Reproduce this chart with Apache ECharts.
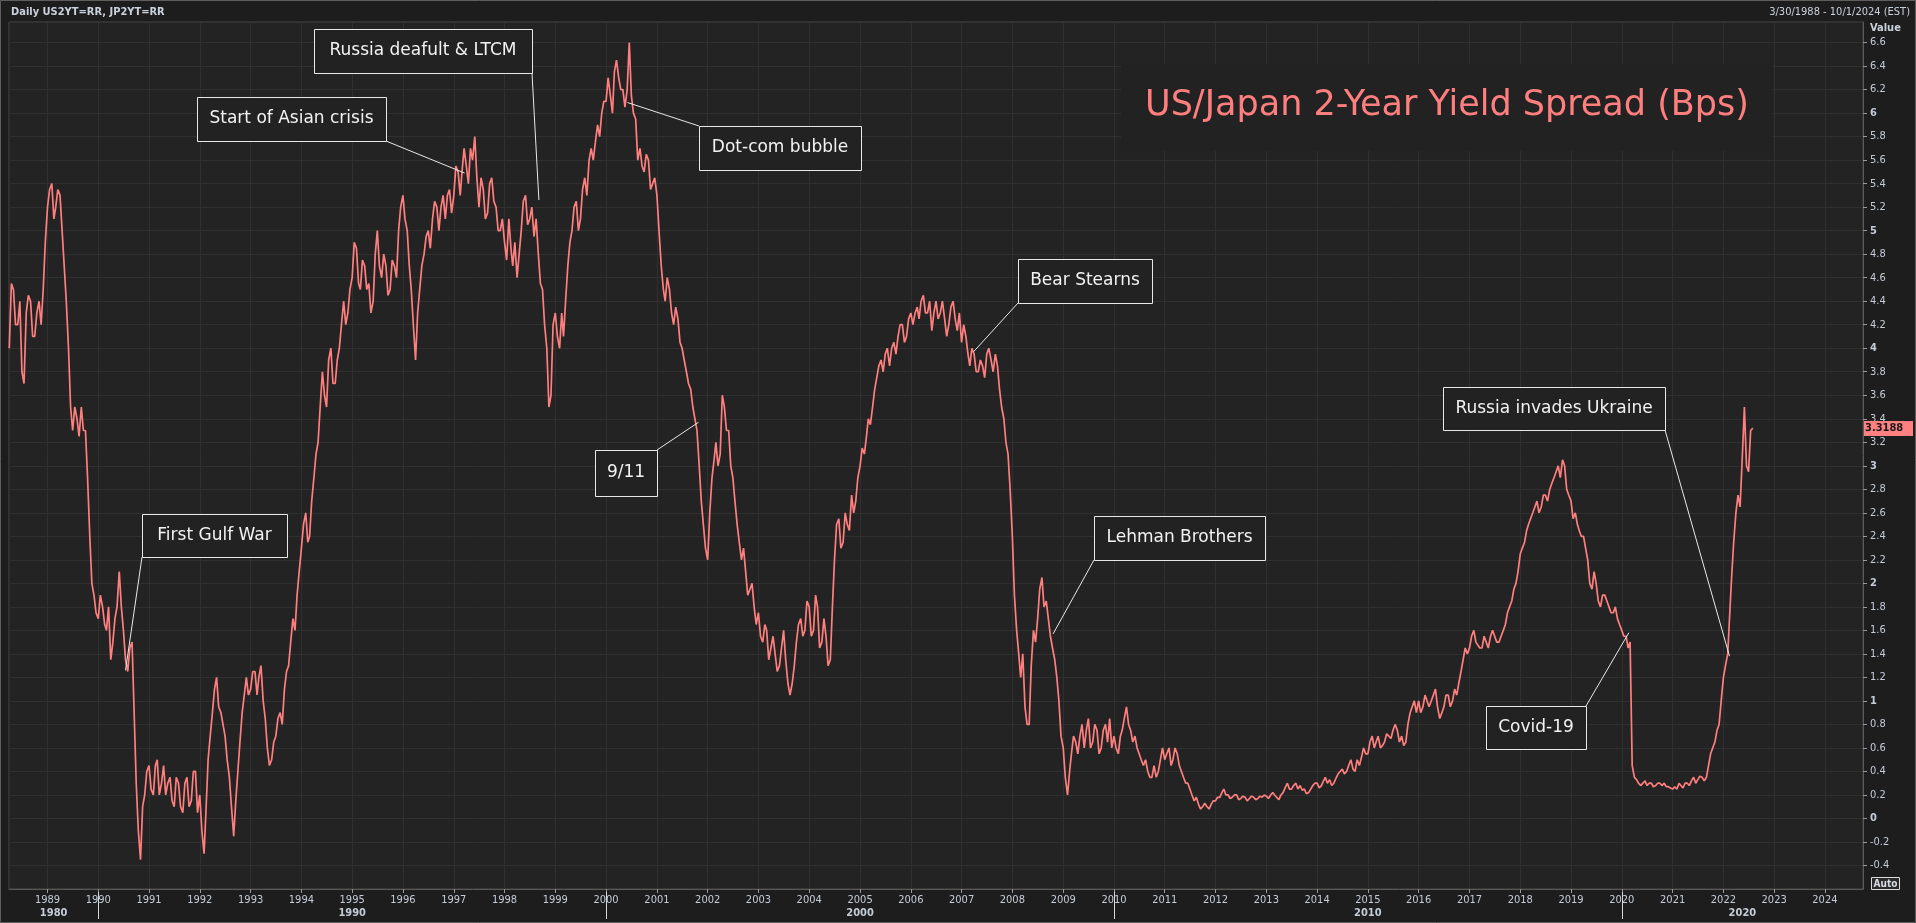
<!DOCTYPE html>
<html><head><meta charset="utf-8">
<script src="https://cdn.jsdelivr.net/npm/echarts@6/dist/echarts.min.js"></script>
<style>html,body{margin:0;padding:0;background:#1d1d1d;overflow:hidden}#c{width:1916px;height:923px}</style>
</head><body><div id="c"></div>
<script>
// ---------- texts ----------
const chartTitle = 'US/Japan 2-Year Yield Spread (Bps)';
const headerLeft = 'Daily US2YT=RR, JP2YT=RR';
const headerRight = '3/30/1988 - 10/1/2024 (EST)';
const axisName = 'Value';
const lastValueText = '3.3188';
const lastValue = 3.3188;
const rangeStart = '1988-03-30';
const rangeEnd = '2024-10-01';
const decades = [1980, 1990, 2000, 2010, 2020];

// ---------- data: spread read at the 1st and 16th of each month; 1988 starts in April, 2022 ends in August ----------
const dataYears = [1988,1989,1990,1991,1992,1993,1994,1995,1996,1997,1998,1999,2000,2001,2002,2003,2004,2005,2006,2007,2008,2009,2010,2011,2012,2013,2014,2015,2016,2017,2018,2019,2020,2021,2022];
const firstMonth = 4;
const spreadMonthStart = [
  [4.0,4.5,4.2,3.8,4.3,4.4,4.1,4.4,4.5],
  [5.2,5.4,5.2,5.3,4.7,4.0,3.3,3.4,3.5,3.3,2.4,1.9],
  [1.7,1.8,1.6,1.35,1.7,2.1,1.6,1.25,1.5,0.3,-0.35,0.2],
  [0.45,0.2,0.5,0.3,0.2,0.35,0.1,0.3,0.05,0.35,0.15,0.4],
  [0.2,-0.3,0.5,0.9,1.2,0.9,0.7,0.35,-0.15,0.4,0.9,1.2],
  [1.1,1.25,1.2,1.0,0.6,0.5,0.7,0.9,1.1,1.3,1.7,1.9],
  [2.3,2.6,2.4,2.9,3.2,3.8,3.5,4.0,3.7,4.0,4.4,4.3],
  [4.6,4.85,4.5,4.7,4.55,4.4,5.0,4.6,4.7,4.5,4.7,5.0],
  [5.3,5.0,4.5,3.9,4.5,4.8,5.0,5.1,5.2,5.2,5.1,5.35],
  [5.3,5.5,5.5,5.55,5.7,5.8,5.2,5.35,5.15,5.45,5.2,5.0],
  [4.9,5.1,4.7,4.6,5.0,5.3,5.1,4.95,4.8,4.5,4.0,3.6],
  [4.3,4.0,4.1,4.7,5.0,5.25,5.1,5.45,5.6,5.6,5.9,6.0],
  [6.1,6.15,6.35,6.3,6.2,6.2,6.15,5.95,5.7,5.5,5.6,5.4],
  [5.3,4.7,4.4,4.5,4.2,4.25,4.0,3.8,3.65,3.4,3.0,2.5],
  [2.2,2.9,3.2,3.1,3.5,3.3,2.9,2.5,2.2,2.1,1.95,1.8],
  [1.75,1.5,1.6,1.45,1.4,1.3,1.6,1.15,1.15,1.5,1.7,1.6],
  [1.8,1.6,1.8,1.5,1.55,1.35,2.2,2.55,2.35,2.5,2.75,2.7],
  [3.0,3.1,3.4,3.5,3.75,3.9,3.95,3.85,4.05,4.1,4.2,4.1],
  [4.3,4.3,4.25,4.45,4.3,4.15,4.4,4.3,4.25,4.2,4.4,4.15],
  [4.05,4.1,3.85,3.95,3.8,3.85,3.95,3.9,3.95,3.65,3.4,3.1],
  [2.4,1.6,1.2,0.95,0.8,1.6,1.7,2.05,1.85,1.55,1.35,1.0],
  [0.6,0.2,0.55,0.65,0.7,0.6,0.85,0.65,0.75,0.6,0.8,0.85],
  [0.7,0.55,0.75,0.95,0.75,0.7,0.55,0.45,0.4,0.35,0.35,0.5],
  [0.5,0.6,0.5,0.55,0.4,0.3,0.25,0.15,0.12,0.1,0.1,0.12],
  [0.15,0.18,0.25,0.2,0.18,0.2,0.17,0.18,0.17,0.18,0.17,0.18],
  [0.19,0.2,0.2,0.16,0.22,0.3,0.25,0.3,0.28,0.25,0.22,0.28],
  [0.3,0.28,0.35,0.33,0.3,0.38,0.42,0.4,0.5,0.4,0.45,0.6],
  [0.55,0.7,0.65,0.6,0.65,0.7,0.75,0.75,0.7,0.65,0.9,1.0],
  [1.0,0.95,1.05,1.0,1.1,0.85,0.95,1.05,1.0,1.05,1.25,1.45],
  [1.45,1.6,1.5,1.45,1.5,1.55,1.55,1.5,1.6,1.75,1.85,2.0],
  [2.25,2.35,2.5,2.6,2.7,2.65,2.75,2.8,2.9,3.0,3.05,2.8],
  [2.7,2.6,2.45,2.4,2.2,1.95,2.0,1.8,1.9,1.8,1.75,1.7],
  [1.6,1.55,1.5,0.35,0.3,0.3,0.28,0.3,0.28,0.3,0.3,0.27],
  [0.25,0.25,0.28,0.3,0.28,0.35,0.33,0.35,0.35,0.55,0.65,0.8],
  [1.2,1.4,2.05,2.6,2.65,3.5,2.95,3.32]
];
const spreadMidMonth = [
  [4.55,4.2,4.4,3.7,4.45,4.1,4.3,4.2,4.9],
  [5.35,5.1,5.35,5.0,4.4,3.5,3.5,3.25,3.3,2.9,2.0,1.75],
  [1.9,1.65,1.8,1.5,1.8,1.8,1.35,1.45,0.9,-0.1,0.1,0.4],
  [0.25,0.45,0.2,0.45,0.3,0.15,0.35,0.1,0.3,0.1,0.4,0.05],
  [-0.1,0.1,0.7,1.1,0.95,0.8,0.5,0.1,0.15,0.65,1.05,1.05],
  [1.25,1.05,1.3,0.85,0.45,0.65,0.85,0.8,1.25,1.5,1.6,2.1],
  [2.5,2.35,2.7,3.1,3.5,3.6,3.9,3.7,3.9,4.2,4.2,4.5],
  [4.9,4.55,4.75,4.5,4.3,4.8,4.7,4.8,4.45,4.75,4.6,5.2],
  [5.1,4.7,4.2,4.3,4.7,4.95,4.85,5.25,5.0,5.3,5.3,5.15],
  [5.55,5.3,5.7,5.4,5.6,5.45,5.45,5.1,5.4,5.25,5.0,5.1],
  [4.75,4.85,4.9,4.8,5.25,5.05,5.2,5.1,4.55,4.2,3.5,4.2],
  [4.1,4.3,4.4,4.9,5.2,5.0,5.35,5.3,5.7,5.75,5.8,6.1],
  [6.3,6.0,6.45,6.2,6.05,6.6,6.0,5.6,5.55,5.65,5.35,5.45],
  [5.0,4.5,4.6,4.3,4.35,4.05,3.9,3.7,3.5,3.3,2.7,2.3],
  [2.6,3.05,3.0,3.6,3.3,3.0,2.7,2.35,2.3,1.9,2.0,1.65],
  [1.55,1.65,1.35,1.55,1.25,1.45,1.35,1.05,1.3,1.65,1.55,1.85],
  [1.55,1.9,1.45,1.7,1.3,1.8,2.5,2.3,2.6,2.45,2.6,2.9],
  [3.15,3.25,3.35,3.65,3.85,3.8,4.0,4.0,3.95,4.2,4.05,4.25],
  [4.2,4.35,4.4,4.3,4.4,4.3,4.25,4.4,4.1,4.35,4.25,4.3],
  [4.2,3.95,4.0,3.8,3.9,3.75,4.0,3.8,3.85,3.5,3.2,2.8],
  [1.9,1.4,1.4,0.8,1.3,1.5,1.95,1.8,1.7,1.45,1.2,0.7],
  [0.35,0.4,0.7,0.55,0.8,0.75,0.6,0.8,0.55,0.75,0.65,0.6],
  [0.6,0.7,0.85,0.8,0.65,0.6,0.5,0.5,0.35,0.45,0.4,0.6],
  [0.55,0.45,0.6,0.45,0.35,0.3,0.2,0.18,0.08,0.13,0.08,0.15],
  [0.18,0.22,0.2,0.17,0.2,0.16,0.19,0.15,0.19,0.16,0.19,0.2],
  [0.17,0.22,0.18,0.2,0.26,0.25,0.28,0.25,0.24,0.21,0.25,0.3],
  [0.26,0.32,0.3,0.28,0.34,0.4,0.38,0.45,0.42,0.5,0.52,0.55],
  [0.65,0.6,0.7,0.62,0.72,0.68,0.8,0.65,0.62,0.8,0.95,0.9],
  [0.9,1.05,0.95,1.05,0.95,0.9,1.05,0.95,1.1,1.15,1.35,1.4],
  [1.55,1.5,1.45,1.55,1.45,1.6,1.5,1.55,1.65,1.8,1.95,2.1],
  [2.3,2.45,2.55,2.65,2.6,2.75,2.7,2.85,2.95,2.9,3.0,2.75],
  [2.55,2.5,2.4,2.3,2.0,2.1,1.85,1.9,1.85,1.75,1.8,1.65],
  [1.55,1.45,0.45,0.33,0.28,0.32,0.3,0.27,0.3,0.28,0.27,0.26],
  [0.27,0.3,0.26,0.3,0.32,0.3,0.36,0.32,0.45,0.6,0.75,1.0],
  [1.3,1.75,2.35,2.75,3.05,3.0,3.3]
];

// ---------- annotations: anchor on the line (date, value) + box layout ----------
const annotations = [
  {text:'Start of Asian crisis', date:'1997-03-20', value:5.49, box:[197,97,189,44], from:'br'},
  {text:'Russia deafult & LTCM', date:'1998-09-05', value:5.26, box:[314,29,218,44], from:'br'},
  {text:'Dot-com bubble', date:'2000-06-03', value:6.09, box:[699,126,162,44], from:'tl'},
  {text:'9/11', date:'2001-10-27', value:3.37, box:[595,450,62,46], from:'tr'},
  {text:'First Gulf War', date:'1990-07-16', value:1.26, box:[142,514,145,43], from:'bl'},
  {text:'Bear Stearns', date:'2007-03-28', value:3.97, box:[1018,259,134,44], from:'bl'},
  {text:'Lehman Brothers', date:'2008-10-20', value:1.57, box:[1094,516,171,44], from:'bl'},
  {text:'Russia invades Ukraine', date:'2022-02-14', value:1.38, box:[1443,387,222,43], from:'br'},
  {text:'Covid-19', date:'2020-02-21', value:1.58, box:[1486,706,100,43], from:'tr'}
];

// ---------- styling ----------
const FONT = '"DejaVu Sans Condensed", "DejaVu Sans", sans-serif';
const NOTE_FONT = '"DejaVu Sans", sans-serif';
const LINE = '#ff7f7f';
const TXT = '#c4ccd8';
const GRID = {left:9, top:22, right:53, bottom:34};
const YEAR = 365 * 86400000;

const seriesData = [];
spreadMonthStart.forEach((vals, i) => {
  const y = dataYears[i];
  const m0 = i === 0 ? firstMonth : 1;
  vals.forEach((v, j) => {
    const mm = y + '-' + String(m0 + j).padStart(2, '0');
    seriesData.push([mm + '-01', v]);
    const mid = spreadMidMonth[i][j];
    if (mid !== undefined) seriesData.push([mm + '-16', mid]);
  });
});

const chart = echarts.init(document.getElementById('c'), null, {renderer:'canvas', width:1916, height:923});

chart.setOption({
  backgroundColor: '#1d1d1d',
  animation: false,
  grid: {left:GRID.left, top:GRID.top, right:GRID.right, bottom:GRID.bottom, show:true,
         backgroundColor:'#232323', borderColor:'#4a4a4a', borderWidth:1, containLabel:false},
  xAxis: {
    type:'time', min:rangeStart, max:rangeEnd, splitNumber:37, minInterval:YEAR,
    axisLine:{show:true, onZero:false, lineStyle:{color:'#5a5a5a', width:1}},
    axisTick:{show:true, length:4, lineStyle:{color:'#9a9a9a'}},
    axisLabel:{show:true, showMinLabel:false, showMaxLabel:false, color:TXT, fontSize:11, fontFamily:FONT, margin:6,
      formatter: v => String(new Date(v).getFullYear())},
    splitLine:{show:true, lineStyle:{color:'#303030', width:1}}
  },
  yAxis: {
    type:'value', position:'right', min:-0.6, max:6.775, interval:0.2,
    axisLine:{show:true, lineStyle:{color:'#5a5a5a', width:1}},
    axisTick:{show:true, length:4, lineStyle:{color:'#9a9a9a'}},
    axisLabel:{show:true, showMinLabel:false, showMaxLabel:false, color:TXT, fontSize:11, fontFamily:FONT, margin:7,
      formatter: v => { const r = Math.round(v * 10) / 10; const s = String(r === 0 ? 0 : r); return Number.isInteger(r) ? '{b|' + s + '}' : s; },
      rich:{b:{fontWeight:'bold', color:TXT, fontSize:11, fontFamily:FONT}}},
    splitLine:{show:true, lineStyle:{color:'#303030', width:1}}
  },
  series: [{
    type:'line', data:seriesData, showSymbol:false, symbol:'none',
    lineStyle:{color:LINE, width:1.7}, z:3, clip:true
  }]
});

function tp(d) { return +echarts.time.parse(d); }
function px(d, v) { return chart.convertToPixel({gridIndex:0}, [tp(d), v]); }

const g = [];
// outer border
g.push({type:'rect', shape:{x:0.5, y:0.5, width:1915, height:922}, style:{fill:'none', stroke:'#5e5e5e', lineWidth:1}, z:1, silent:true});
// header
g.push({type:'text', x:11, y:12, style:{text:headerLeft, fill:'#c9d1dd', font:'bold 11px ' + FONT, textVerticalAlign:'middle'}, z:10});
g.push({type:'text', x:1910, y:12, style:{text:headerRight, fill:'#c9d1dd', font:'11px ' + FONT, textAlign:'right', textVerticalAlign:'middle'}, z:10});
g.push({type:'text', x:1870, y:28, style:{text:axisName, fill:'#c9d1dd', font:'bold 11px ' + FONT, textVerticalAlign:'middle'}, z:10});

// decade row
const x0 = tp(rangeStart), x1 = tp(rangeEnd);
decades.forEach(d => {
  const s = Math.max(tp(d + '-01-01'), x0), e = Math.min(tp((d + 10) + '-01-01'), x1);
  const cx = chart.convertToPixel({xAxisIndex:0}, (s + e) / 2);
  g.push({type:'text', x:cx, y:913, style:{text:String(d), fill:TXT, font:'bold 11px ' + FONT, textAlign:'center', textVerticalAlign:'middle'}, z:10});
  const sx = chart.convertToPixel({xAxisIndex:0}, tp(d + '-01-01'));
  if (tp(d + '-01-01') > x0) {
    g.push({type:'line', shape:{x1:Math.round(sx) + 0.5, y1:892, x2:Math.round(sx) + 0.5, y2:919}, style:{stroke:'#d8d8d8', lineWidth:1}, z:10});
  }
});

// title box
g.push({type:'rect', shape:{x:1121, y:64, width:652, height:87}, style:{fill:'#222222'}, z:4});
const ctx = document.createElement('canvas').getContext('2d');
ctx.font = '36px ' + FONT;
const tw = ctx.measureText(chartTitle).width;
g.push({type:'text', x:1447, y:106, scaleX:604 / tw, originX:0, originY:0,
  style:{text:chartTitle, fill:LINE, font:'36px ' + FONT, textAlign:'center', textVerticalAlign:'middle'}, z:5});

// annotations
annotations.forEach(a => {
  const [bx, by, bw, bh] = a.box;
  const p = px(a.date, a.value);
  const sx = a.from[1] === 'r' ? bx + bw : bx;
  const sy = a.from[0] === 'b' ? by + bh : by;
  g.push({type:'line', shape:{x1:sx, y1:sy, x2:p[0], y2:p[1]}, style:{stroke:'#e8e8e8', lineWidth:1}, z:6});
  g.push({type:'rect', shape:{x:bx + 0.5, y:by + 0.5, width:bw, height:bh}, style:{fill:'#222222', stroke:'#e8e8e8', lineWidth:1}, z:7});
  g.push({type:'text', x:bx + bw / 2, y:by + bh / 2, style:{text:a.text, fill:'#f2f2f2', font:'17px ' + NOTE_FONT, textAlign:'center', textVerticalAlign:'middle'}, z:8});
});

// last value tag
const ly = Math.round(chart.convertToPixel({yAxisIndex:0}, lastValue));
g.push({type:'rect', shape:{x:1864, y:ly - 7, width:49, height:15}, style:{fill:'#ff8080'}, z:10});
g.push({type:'text', x:1865, y:ly + 0.5, style:{text:lastValueText, fill:'#1a1a1a', font:'bold 11px ' + FONT, textVerticalAlign:'middle'}, z:11});

// Auto box
g.push({type:'rect', shape:{x:1871.5, y:877.5, width:28, height:12}, style:{fill:'#2a2a2a', stroke:'#dcdcdc', lineWidth:1}, z:10});
g.push({type:'text', x:1885.5, y:884, style:{text:'Auto', fill:'#d8dee8', font:'bold 10px ' + FONT, textAlign:'center', textVerticalAlign:'middle'}, z:11});

chart.setOption({graphic:{elements:g}});
</script>
</body></html>
